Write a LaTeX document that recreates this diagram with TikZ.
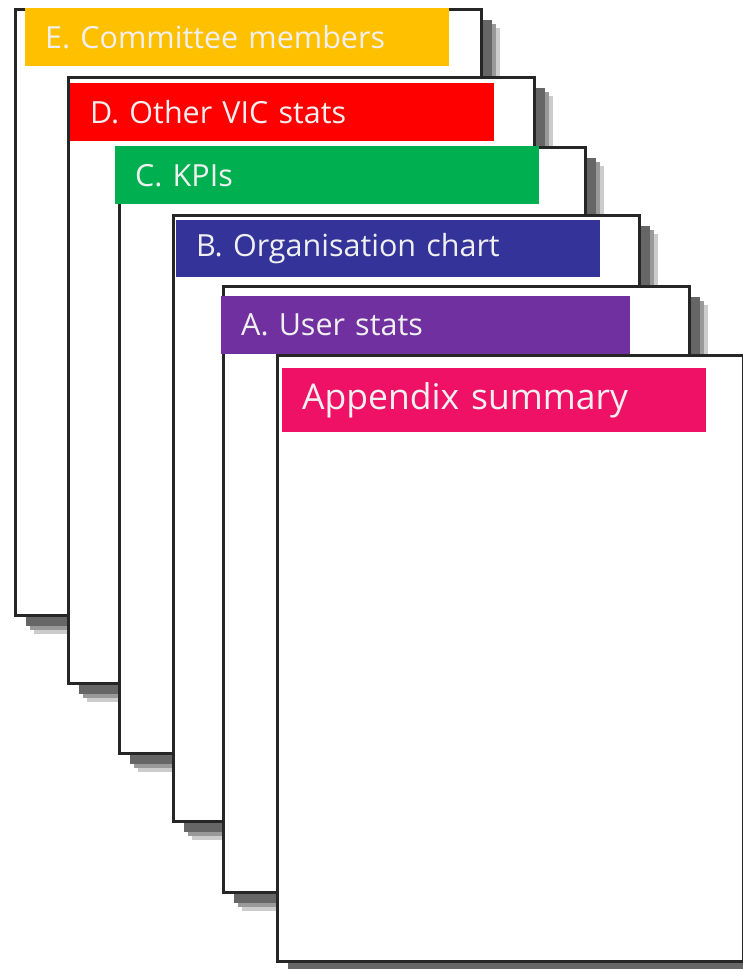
\documentclass[tikz,border=0pt]{standalone}
\usepackage{fontspec}
\setmainfont{Open Sans}
\usepackage{tikz}
\usetikzlibrary{shadows, positioning}

\definecolor{hdorange}{HTML}{FFC000}
\definecolor{hdred}{HTML}{FF0000}
\definecolor{hdgreen}{HTML}{00B050}
\definecolor{hdblue}{HTML}{333399}
\definecolor{hdpurple}{HTML}{7030A0}
\definecolor{hdpink}{HTML}{EE1166}

\begin{document}
\begin{tikzpicture}[x=1pt,y=-1pt,
% Page style (sheet with stepped grey shadow)
    page/.style={rectangle,draw=black!85,line width=2.5pt,fill=white,
		anchor=north west,minimum width=466pt,minimum height=606pt,
		general shadow={shadow xshift=19pt,shadow yshift=-19pt,fill=black!20},
		general shadow={shadow xshift=15pt,shadow yshift=-15pt,fill=black!40},
		general shadow={shadow xshift=11pt,shadow yshift=-11pt,fill=black!60}},
% Header bar style
    head/.style={rectangle,anchor=north west,text=white!94!black,
		text width=384pt,align=left,inner xsep=20pt,inner ysep=0pt,
		minimum height=58pt,font=\fontsize{30.5}{36}\selectfont}
    ]
    \useasboundingbox (0,0) rectangle (743,969);
%% Draw pages, back to front
    \node [page] (pageE) at (14,8)   {};
    \node [head,fill=hdorange] (headE) at (25,8)   {E. Committee members};
    \node [page] (pageD) at (67,76)  {};
    \node [head,fill=hdred]    (headD) at (70,83)  {D. Other VIC stats};
    \node [page] (pageC) at (118,146) {};
    \node [head,fill=hdgreen]  (headC) at (115,146) {C. KPIs};
    \node [page] (pageB) at (172,214) {};
    \node [head,fill=hdblue,minimum height=57pt] (headB) at (176,220)
		{B. Organisation chart};
    \node [page] (pageA) at (222,285) {};
    \node [head,fill=hdpurple,text width=369pt] (headA) at (221,296)
		{A. User stats};
    \node [page] (pageS) at (276,354) {};
    \node [head,fill=hdpink,minimum height=64pt,
		font=\fontsize{35.5}{42}\selectfont] (headS) at (282,368)
		{Appendix summary};
\end{tikzpicture}
\end{document}
